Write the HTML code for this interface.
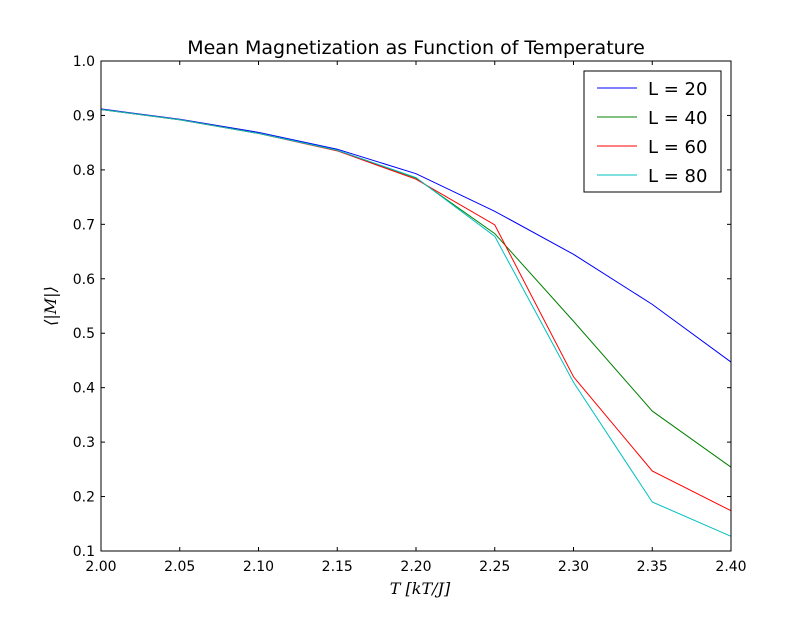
<!DOCTYPE html>
<html><head><meta charset="utf-8"><style>
body{margin:0;background:#fff;}
svg text{font-family:"DejaVu Sans","Liberation Sans",sans-serif;}
svg text.math{font-family:"DejaVu Serif","Liberation Serif",serif;font-style:italic;}
</style></head><body>
<svg width="812" height="612" xmlns="http://www.w3.org/2000/svg">
<rect width="812" height="612" fill="#fff"/>
<g id="plot"></g>
</svg>
<script>
const temps=[2.00,2.05,2.10,2.15,2.20,2.25,2.30,2.35,2.40];
const L20=[0.912,0.893,0.869,0.838,0.793,0.724,0.645,0.553,0.447];
const L40=[0.911,0.892,0.867,0.836,0.785,0.683,0.522,0.357,0.254];
const L60=[0.911,0.892,0.867,0.835,0.783,0.699,0.420,0.247,0.174];
const L80=[0.911,0.892,0.867,0.836,0.786,0.678,0.410,0.190,0.127];
const xTicks=["2.00","2.05","2.10","2.15","2.20","2.25","2.30","2.35","2.40"];
const yTicks=["0.1","0.2","0.3","0.4","0.5","0.6","0.7","0.8","0.9","1.0"];
const seriesNames=["L = 20","L = 40","L = 60","L = 80"];
const seriesColors=["#0000ff","#008000","#ff0000","#00bfbf"];
const NS="http://www.w3.org/2000/svg";
const X0=101,X1=731,Y0=551,Y1=61;
const xs=v=>X0+(v-2.0)/0.4*(X1-X0);
const ys=v=>Y0-(v-0.1)/0.9*(Y0-Y1);
const g=document.getElementById('plot');
function mk(t,a,p){const e=document.createElementNS(NS,t);for(const k in a)e.setAttribute(k,a[k]);(p||g).appendChild(e);return e;}
[L20,L40,L60,L80].forEach((s,i)=>{
  const p=mk('polyline',{points:s.map((v,j)=>xs(temps[j])+','+ys(v)).join(' '),fill:'none',stroke:seriesColors[i],'stroke-width':1});
  
  
});
const fr=mk('rect',{x:X0,y:Y1,width:X1-X0,height:Y0-Y1,fill:'none',stroke:'#000','stroke-width':1});


xTicks.forEach(t=>{const x=xs(parseFloat(t));
  mk('line',{x1:x,y1:Y0,x2:x,y2:Y0-4,stroke:'#000'});mk('line',{x1:x,y1:Y1,x2:x,y2:Y1+4,stroke:'#000'});
  const tx=mk('text',{x:x,y:Y0+20,'text-anchor':'middle','font-size':14});tx.textContent=t;
  
  
});
yTicks.forEach(t=>{const y=ys(parseFloat(t));
  mk('line',{x1:X0,y1:y,x2:X0+4,y2:y,stroke:'#000'});mk('line',{x1:X1,y1:y,x2:X1-4,y2:y,stroke:'#000'});
  const tx=mk('text',{x:X0-6,y:y+5,'text-anchor':'end','font-size':14});tx.textContent=t;
  
  
});
const ti=mk('text',{x:416,y:54,'text-anchor':'middle','font-size':19});ti.textContent='Mean Magnetization as Function of Temperature';


const xl=mk('text',{x:420,y:594,'text-anchor':'middle','font-size':16,'class':'math'});xl.textContent='T   [kT/J]';


const yl=mk('text',{x:56,y:306,'text-anchor':'middle','font-size':16,'class':'math',transform:'rotate(-90 56 306)'});yl.textContent='⟨|M|⟩';


const lg=mk('g',{});


mk('rect',{x:584,y:71,width:137,height:121,fill:'#fff',stroke:'#000'},lg);
seriesNames.forEach((n,i)=>{const y=88+i*29;
  mk('line',{x1:597,y1:y,x2:637,y2:y,stroke:seriesColors[i]},lg);
  const t=mk('text',{x:648,y:y+7,'font-size':18},lg);t.textContent=n;
  
  
});
</script>
</body></html>
